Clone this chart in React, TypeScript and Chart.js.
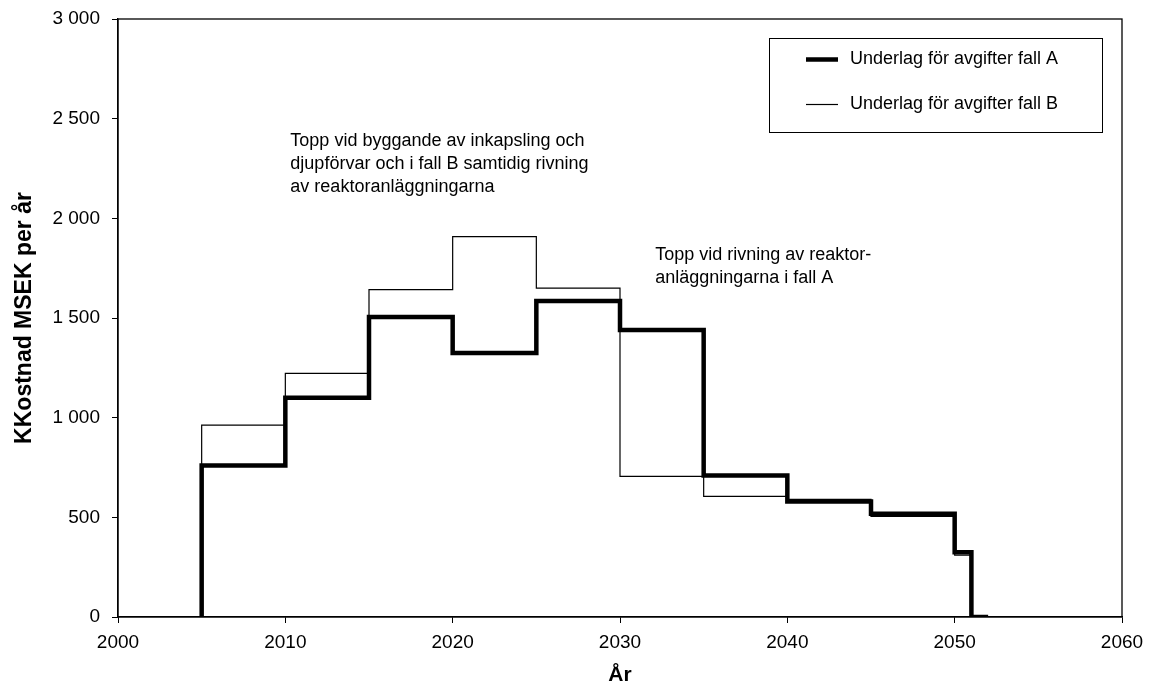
import React, { useEffect, useRef } from "react";
import { Chart, registerables } from "chart.js";

Chart.register(...registerables);

// ---- data ----
const years = [2005, 2005, 2010, 2015, 2020, 2025, 2030, 2035, 2040, 2045, 2050, 2051, 2052];
const caseA = [0, 760, 1100, 1505, 1325, 1585, 1440, 710, 580, 518, 325, 0, 0];
const caseB = [0, 963, 1222, 1642, 1908, 1650, 705, 605, 590, 505, 310, 0, 0];
const seriesLabels = ["Underlag för avgifter fall A", "Underlag för avgifter fall B"];
const yTickValues = [0, 500, 1000, 1500, 2000, 2500, 3000];
const yTickLabels = ["0", "500", "1 000", "1 500", "2 000", "2 500", "3 000"];
const xTickValues = [2000, 2010, 2020, 2030, 2040, 2050, 2060];
const xTickLabels = ["2000", "2010", "2020", "2030", "2040", "2050", "2060"];
const yTitle = "KKostnad MSEK per år";
const xTitle = "År";
const note1 = ["Topp vid byggande av inkapsling och", "djupförvar och i fall B samtidig rivning", "av reaktoranläggningarna"];
const note1Anchor = [2010.3, 2390];
const note2 = ["Topp vid rivning av reaktor-", "anläggningarna i fall A"];
const note2Anchor = [2032.1, 1815];

const FONT = "'Liberation Sans', Arial, Helvetica, sans-serif";

const overlayPlugin = {
  id: "overlay",
  afterDraw(chart: any) {
    const { ctx, chartArea, scales } = chart;
    ctx.save();
    // frame
    ctx.strokeStyle = "#000";
    ctx.lineWidth = 1.3;
    ctx.strokeRect(chartArea.left, chartArea.top, chartArea.right - chartArea.left, chartArea.bottom - chartArea.top);

    // annotations
    ctx.fillStyle = "#000";
    ctx.font = `18px ${FONT}`;
    ctx.textAlign = "left";
    ctx.textBaseline = "middle";
    const lh = 23;
    const drawNote = (lines: string[], anchor: number[]) => {
      const x = scales.x.getPixelForValue(anchor[0]);
      const y = scales.y.getPixelForValue(anchor[1]);
      lines.forEach((t, i) => ctx.fillText(t, x, y + i * lh));
    };
    drawNote(note1, note1Anchor);
    drawNote(note2, note2Anchor);

    // legend box
    const bx = chartArea.right - 353;
    const by = chartArea.top + 18.5;
    const bw = 333;
    const bh = 94;
    ctx.lineWidth = 1;
    ctx.strokeStyle = "#000";
    ctx.strokeRect(Math.round(bx) + 0.5, Math.round(by) + 0.5, bw, bh);
    const items = [
      { label: seriesLabels[0], width: 4.5, y: by + 22 },
      { label: seriesLabels[1], width: 1.2, y: by + 67 },
    ];
    items.forEach((it) => {
      ctx.beginPath();
      ctx.lineWidth = it.width;
      ctx.moveTo(bx + 37, it.y);
      ctx.lineTo(bx + 69, it.y);
      ctx.stroke();
      ctx.fillText(it.label, bx + 81, it.y);
    });
    ctx.restore();
  },
};

export default function App() {
  const ref = useRef<HTMLCanvasElement | null>(null);
  useEffect(() => {
    if (!ref.current) return;
    const toPts = (vals: number[]) => years.map((x, i) => ({ x, y: vals[i] }));
    const chart = new Chart(ref.current, {
      type: "line",
      data: {
        datasets: [
          {
            label: seriesLabels[0],
            data: toPts(caseA),
            borderColor: "#000",
            borderWidth: 4.5,
            stepped: true,
            pointRadius: 0,
            fill: false,
            borderJoinStyle: "miter",
            borderCapStyle: "butt",
          },
          {
            label: seriesLabels[1],
            data: toPts(caseB),
            borderColor: "#000",
            borderWidth: 1.2,
            stepped: true,
            pointRadius: 0,
            fill: false,
            borderJoinStyle: "miter",
          },
        ],
      },
      options: {
        animation: false,
        responsive: false,
        devicePixelRatio: 1,
        layout: { padding: { top: 19, right: 27, left: 0, bottom: 0 } },
        plugins: {
          legend: { display: false },
          tooltip: { enabled: false },
        },
        scales: {
          x: {
            type: "linear",
            min: 2000,
            max: 2060,
            afterBuildTicks: (s: any) => {
              s.ticks = xTickValues.map((v) => ({ value: v }));
            },
            afterFit: (s: any) => {
              s.height = 74;
              s.paddingLeft = 0;
              s.paddingRight = 0;
            },
            ticks: {
              color: "#000",
              font: { family: FONT, size: 19 },
              padding: 8,
              maxRotation: 0,
              callback: (v: any) => {
                const i = xTickValues.indexOf(Number(v));
                return i >= 0 ? xTickLabels[i] : "";
              },
            },
            grid: { display: true, drawOnChartArea: false, drawTicks: true, tickLength: 6, color: "#000" },
            border: { display: true, color: "#000", width: 1.3 },
            title: {
              display: true,
              text: xTitle,
              color: "#000",
              font: { family: FONT, size: 21, weight: "bold" },
              padding: { top: 0, bottom: 3 },
            },
          },
          y: {
            type: "linear",
            min: 0,
            max: 3000,
            afterBuildTicks: (s: any) => {
              s.ticks = yTickValues.map((v) => ({ value: v }));
            },
            afterFit: (s: any) => {
              s.width = 118;
              s.paddingTop = 0;
              s.paddingBottom = 0;
            },
            ticks: {
              color: "#000",
              font: { family: FONT, size: 19 },
              padding: 12,
              callback: (v: any) => {
                const i = yTickValues.indexOf(Number(v));
                return i >= 0 ? yTickLabels[i] : "";
              },
            },
            grid: { display: true, drawOnChartArea: false, drawTicks: true, tickLength: 6, color: "#000" },
            border: { display: true, color: "#000", width: 1.3 },
            title: {
              display: true,
              text: yTitle,
              color: "#000",
              font: { family: FONT, size: 23, weight: "bold" },
              padding: { top: 11, bottom: 0 },
            },
          },
        },
      },
      plugins: [overlayPlugin],
    } as any);
    return () => chart.destroy();
  }, []);
  return (
    <div style={{ position: "fixed", left: 0, top: 0, width: 1149, height: 691, background: "#fff" }}>
      <canvas ref={ref} width={1149} height={691} style={{ display: "block" }} />
    </div>
  );
}
